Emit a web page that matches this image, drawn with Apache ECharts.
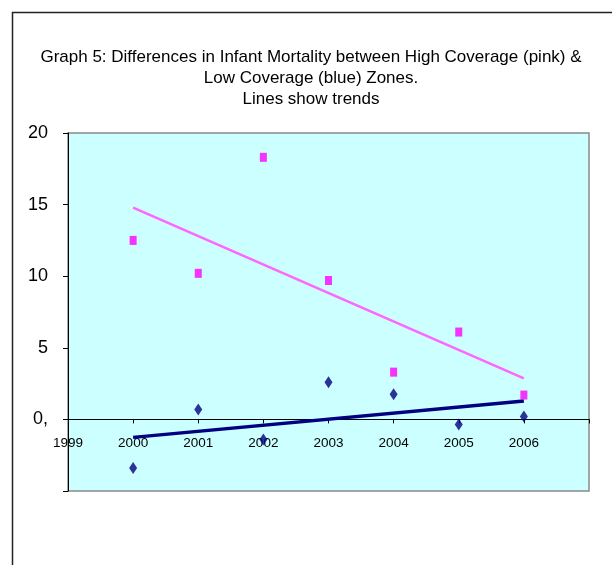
<!DOCTYPE html>
<html>
<head>
<meta charset="utf-8">
<script src="https://cdn.jsdelivr.net/npm/echarts@6/dist/echarts.min.js"></script>
<style>
html,body{margin:0;padding:0;background:#fff;}
#chart{width:612px;height:565px;}
</style>
</head>
<body>
<div id="chart"></div>
<script>
var titleLines = [
  "Graph 5: Differences in Infant Mortality between High Coverage (pink) &",
  "Low Coverage (blue) Zones.",
  "Lines show trends"
];
var years = [2000, 2001, 2002, 2003, 2004, 2005, 2006];
var highCoverage = [12.5, 10.2, 18.3, 9.7, 3.3, 6.1, 1.7];   // pink
var lowCoverage  = [-3.4, 0.7, -1.4, 2.6, 1.75, -0.35, 0.2]; // blue
var xMin = 1999, xMax = 2007;
var yMin = -5, yMax = 20, yStep = 5;

function pairs(xs, ys){ return xs.map(function(x,i){ return [x, ys[i]]; }); }
function trend(xs, ys){
  var n = xs.length, mx = 0, my = 0;
  for (var i=0;i<n;i++){ mx += xs[i]; my += ys[i]; }
  mx/=n; my/=n;
  var sxy=0, sxx=0;
  for (var j=0;j<n;j++){ sxy += (xs[j]-mx)*(ys[j]-my); sxx += (xs[j]-mx)*(xs[j]-mx); }
  var b = sxy/sxx, a = my - b*mx;
  var x0 = xs[0], x1 = xs[n-1];
  return [[x0, a+b*x0],[x1, a+b*x1]];
}

var gridTop = 133, gridBottom = 74, H = 565;
var gridH = H - gridTop - gridBottom;
var zeroOffset = -gridH * (0 - yMin) / (yMax - yMin);

var FONT = 'Liberation Sans, Arial, sans-serif';
var chart = echarts.init(document.getElementById('chart'));
chart.setOption({
  animation: false,
  textStyle: { fontFamily: FONT },
  title: {
    text: titleLines.join('\n'),
    left: 306, top: 42, textAlign: 'center',
    textStyle: { fontSize: 17, fontWeight: 'normal', color: '#000', lineHeight: 21, fontFamily: FONT }
  },
  graphic: [{
    type: 'rect', left: 10, top: 10, z: 100, silent: true,
    shape: { width: 700, height: 700 },
    style: { fill: 'none', stroke: '#222', lineWidth: 1.5 }
  }],
  grid: {
    left: 68, top: gridTop, right: 23, bottom: gridBottom,
    show: true, backgroundColor: '#CCFFFF', borderColor: '#8a8a8a', borderWidth: 1.5
  },
  xAxis: {
    type: 'value', min: xMin, max: xMax, interval: 1,
    position: 'bottom', offset: zeroOffset,
    axisLine: { onZero: false, lineStyle: { color: '#000', width: 1 } },
    axisTick: { show: true, length: 4, lineStyle: { color: '#000' } },
    splitLine: { show: false },
    axisLabel: {
      color: '#000', fontSize: 13.5, margin: 17, showMaxLabel: true, showMinLabel: true,
      formatter: function(v){ return v === xMax ? '' : String(v); }
    }
  },
  yAxis: {
    type: 'value', min: yMin, max: yMax, interval: yStep,
    axisLine: { show: true, lineStyle: { color: '#000', width: 1 } },
    axisTick: { show: true, length: 5, lineStyle: { color: '#000' } },
    splitLine: { show: false },
    axisLabel: {
      color: '#000', fontSize: 18, margin: 20,
      formatter: function(v){ if (v === 0) return '0,'; if (v < 0) return ''; return String(v); }
    }
  },
  series: [
    {
      type: 'line', data: trend(years, highCoverage), symbol: 'none', z: 2,
      lineStyle: { color: '#FF66FF', width: 2.5 }
    },
    {
      type: 'line', data: trend(years, lowCoverage), symbol: 'none', z: 2,
      lineStyle: { color: '#000080', width: 3.5 }
    },
    {
      type: 'scatter', data: pairs(years, highCoverage), symbol: 'rect', symbolSize: [7, 9], z: 3,
      itemStyle: { color: '#FF00FF' }
    },
    {
      type: 'scatter', data: pairs(years, lowCoverage), symbol: 'diamond', symbolSize: [8, 12], z: 3,
      itemStyle: { color: '#000080' }
    }
  ]
});
</script>
</body>
</html>
